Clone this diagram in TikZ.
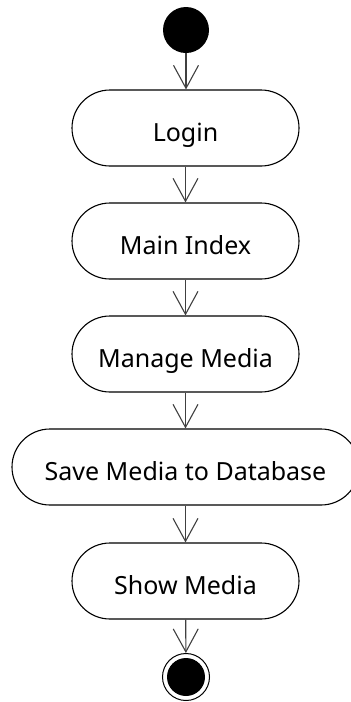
\documentclass[tikz,border=0pt]{standalone}
\usepackage{fontspec}
\setmainfont{Noto Sans}
\usetikzlibrary{arrows.meta}
\begin{document}
\begin{tikzpicture}[x=1pt,y=-1pt,
  act/.style={draw=black, line width=1.1pt, rounded corners=38pt, minimum height=76pt, inner sep=0pt, text height=26pt, text depth=0pt, font=\fontsize{25}{30}\selectfont},
  flow/.style={draw=black!75, line width=1.1pt, -{Straight Barb[length=23pt,width=25pt,line width=1.1pt]}},
  startnode/.style={circle, fill=black, minimum size=46pt, inner sep=0pt}]
\useasboundingbox (0,0) rectangle (351,702);
\node[startnode] (s) at (186,30) {};
\node[act, minimum width=227pt] (a1) at (185.5,128) {Login};
\node[act, minimum width=227pt] (a2) at (185.5,241) {Main Index};
\node[act, minimum width=227pt] (a3) at (185.5,354) {Manage Media};
\node[act, minimum width=347pt] (a4) at (185.5,467) {Save Media to Database};
\node[act, minimum width=227pt] (a5) at (185.5,581) {Show Media};
\node[circle, draw=black, line width=1pt, minimum size=47pt, inner sep=0pt] (e) at (186,677) {};
\node[circle, fill=black, minimum size=38pt, inner sep=0pt] (ei) at (186,677) {};
\draw[flow] (s) -- (s |- a1.north);
\draw[flow] (a1) -- (a1 |- a2.north);
\draw[flow] (a2) -- (a2 |- a3.north);
\draw[flow] (a3) -- (a3 |- a4.north);
\draw[flow] (a4) -- (a4 |- a5.north);
\draw[flow] (a5) -- (e);
\end{tikzpicture}
\end{document}
